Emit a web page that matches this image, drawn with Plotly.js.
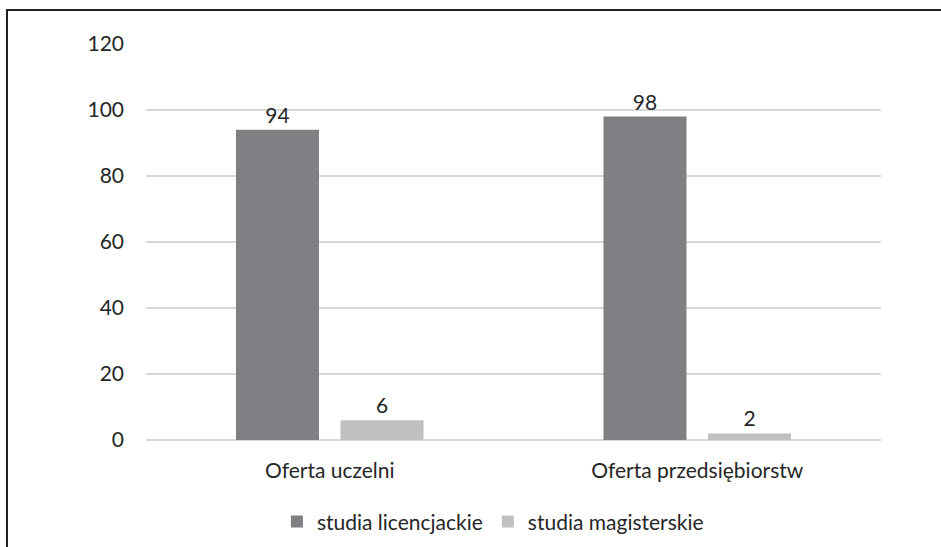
<!DOCTYPE html>
<html>
<head>
<meta charset="utf-8">
<script src="https://cdn.plot.ly/plotly-3.0.1.min.js"></script>
<style>
  html, body { margin: 0; padding: 0; background: #fff; }
  #wrap { position: relative; width: 941px; height: 547px; overflow: hidden; }
  #chart { width: 941px; height: 547px; }
  #frame { position: absolute; left: 6px; top: 9px; width: 1000px; height: 1000px;
           border-top: 2px solid #231f20; border-left: 2px solid #231f20; pointer-events: none; }
</style>
</head>
<body>
<div id="wrap">
  <div id="chart"></div>
  <div id="frame"></div>
</div>
<script>
const categories = ['Oferta uczelni', 'Oferta przedsiębiorstw'];
const seriesNames = ['studia licencjackie', 'studia magisterskie'];
const licencjackie = [94, 98];
const magisterskie = [6, 2];
const yTicks = [0, 20, 40, 60, 80, 100, 120];

const font = { family: 'Lato, "Open Sans", sans-serif', size: 21, color: '#262626' };

const traces = [
  { type: 'bar', name: seriesNames[0], x: categories, y: licencjackie,
    marker: { color: '#7f8083' }, text: licencjackie.map(String),
    textposition: 'outside', cliponaxis: false, textfont: font },
  { type: 'bar', name: seriesNames[1], x: categories, y: magisterskie,
    marker: { color: '#bfc0c2' }, text: magisterskie.map(String),
    textposition: 'outside', cliponaxis: false, textfont: font }
];

const layout = {
  width: 941, height: 547,
  margin: { l: 146, r: 60, t: 44, b: 107, autoexpand: false },
  paper_bgcolor: '#fff', plot_bgcolor: '#fff',
  font: font,
  barmode: 'group', bargap: 0.431, bargroupgap: 0.206,
  showlegend: true,
  legend: { orientation: 'h', x: 0.472, xanchor: 'center', yref: 'container', y: 0.046, yanchor: 'middle',
            font: font, itemwidth: 30, traceorder: 'normal' },
  xaxis: { type: 'category', showgrid: false, showline: false, zeroline: false, automargin: false,
           ticks: '', tickfont: font, ticklabelstandoff: 16 },
  yaxis: { range: [0, 120], tickvals: yTicks, ticktext: yTicks.map(String), automargin: false,
           showgrid: true, gridcolor: '#d9d9d9', gridwidth: 1.3,
           zeroline: true, zerolinecolor: '#d9d9d9', zerolinewidth: 1.3,
           showline: false, ticks: '', tickfont: font, ticklabelstandoff: 21 }
};

Plotly.newPlot('chart', traces, layout, { displayModeBar: false, staticPlot: true });
</script>
</body>
</html>
